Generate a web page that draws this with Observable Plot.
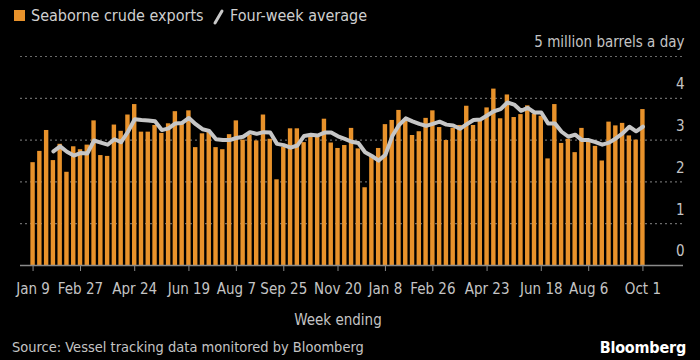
<!DOCTYPE html>
<html>
<head>
<meta charset="utf-8">
<script src="https://cdn.jsdelivr.net/npm/d3@7"></script>
<script src="https://cdn.jsdelivr.net/npm/@observablehq/plot@0.6"></script>
<style>
  html, body { margin: 0; padding: 0; background: #000; }
  body { width: 700px; height: 360px; overflow: hidden; font-family: "Liberation Sans Narrow", "DejaVu Sans Condensed", "Roboto", sans-serif; color: #cfcfcf; }
  #legend { position: relative; height: 30px; font-size: 16px; }
  #legend .sw { position: absolute; left: 14px; top: 10px; width: 11px; height: 11px; background: #e8922b; }
  #legend .t1 { position: absolute; left: 31px; top: 6px; }
  #legend .ln { position: absolute; left: 212px; top: 8px; }
  #legend .t2 { position: absolute; left: 230px; top: 6px; }
  #chart { height: 300px; }
  #footer { position: relative; height: 30px; font-size: 14.5px; }
  #footer .src { position: absolute; left: 12px; top: 9px; color: #c4c4c4; }
  #footer .brand { position: absolute; right: 14px; top: 8px; color: #fff; font-weight: bold; font-family: "Liberation Sans Narrow", "DejaVu Sans Condensed", sans-serif; font-size: 16px; letter-spacing: -0.2px; }
</style>
</head>
<body>
<div id="legend">
  <div class="sw"></div><span class="t1">Seaborne crude exports</span>
  <svg class="ln" width="14" height="18"><line x1="3" y1="15" x2="10" y2="3" stroke="#c8c8c8" stroke-width="3" stroke-linecap="round"/></svg>
  <span class="t2">Four-week average</span>
</div>
<div id="chart"></div>
<div id="footer">
  <span class="src">Source: Vessel tracking data monitored by Bloomberg</span>
  <span class="brand">Bloomberg</span>
</div>
<script>
// Weekly seaborne crude exports, million barrels a day (week ending Jan 9 2022 .. Oct 1 2023)
const exportsMbd = [
  2.46, 2.73, 3.23, 2.51, 2.90, 2.23, 2.84, 2.77, 2.88, 3.46,
  2.63, 2.61, 3.36, 3.21, 3.60, 3.85, 3.19, 3.19, 3.35, 3.16,
  3.39, 3.68, 3.38, 3.70, 2.82, 3.15, 3.20, 2.82, 2.77, 3.13,
  3.46, 3.00, 3.12, 2.98, 3.60, 3.02, 2.05, 2.83, 3.27, 3.27,
  2.94, 3.08, 3.11, 3.50, 2.93, 2.80, 2.87, 3.28, 2.79, 1.86,
  2.61, 2.80, 3.37, 3.47, 3.71, 3.50, 3.11, 3.20, 3.52, 3.70,
  3.30, 2.99, 3.28, 3.35, 3.81, 3.35, 3.46, 3.77, 4.22, 3.51,
  4.08, 3.54, 3.61, 3.82, 3.62, 3.57, 2.55, 3.85, 2.92, 3.02,
  2.70, 3.28, 2.95, 2.85, 2.50, 3.43, 3.34, 3.40, 3.10, 3.00,
  3.73
];
// Four-week average
const fourWeekAvg = [
  null, null, null, 2.73, 2.85, 2.72, 2.63, 2.69, 2.68, 2.99,
  2.94, 2.89, 3.02, 2.95, 3.20, 3.50, 3.48, 3.47, 3.45, 3.24,
  3.28, 3.40, 3.41, 3.53, 3.38, 3.26, 3.22, 3.02, 3.00, 3.00,
  3.05, 3.08, 3.19, 3.15, 3.19, 3.18, 2.91, 2.88, 2.82, 2.87,
  3.10, 3.13, 3.11, 3.18, 3.18, 3.09, 3.03, 2.96, 2.93, 2.71,
  2.62, 2.51, 2.65, 3.09, 3.36, 3.52, 3.45, 3.39, 3.34, 3.39,
  3.44, 3.37, 3.35, 3.27, 3.38, 3.48, 3.49, 3.59, 3.69, 3.74,
  3.90, 3.85, 3.70, 3.77, 3.66, 3.66, 3.40, 3.40, 3.20, 3.08,
  3.13, 3.00, 3.00, 2.95, 2.89, 2.94, 3.04, 3.16, 3.32, 3.21,
  3.32
];
const firstWeek = "2022-01-09";
const tickWeeks = ["2022-01-09","2022-02-27","2022-04-24","2022-06-19","2022-08-07","2022-09-25","2022-11-20",
                   "2023-01-08","2023-02-26","2023-04-23","2023-06-18","2023-08-06","2023-10-01"];
const tickLabels = ["Jan 9","Feb 27","Apr 24","Jun 19","Aug 7","Sep 25","Nov 20",
                    "Jan 8","Feb 26","Apr 23","Jun 18","Aug 6","Oct 1"];
const yTicks = [0, 1, 2, 3, 4, 5];

const fmt = d3.utcFormat("%Y-%m-%d");
const start = new Date(firstWeek + "T00:00:00Z");
const weeks = exportsMbd.map((_, i) => fmt(d3.utcDay.offset(start, 7 * i)));
const data = weeks.map((w, i) => ({week: w, value: exportsMbd[i], avg: fourWeekAvg[i]}));
const labelOf = new Map(tickWeeks.map((w, i) => [w, tickLabels[i]]));

const font = "Liberation Sans Narrow, DejaVu Sans Condensed, Roboto, sans-serif";
const chart = Plot.plot({
  width: 700,
  height: 300,
  marginTop: 26,
  marginBottom: 65,
  marginLeft: 28,
  marginRight: 53,
  style: {background: "#000", color: "#c4c4c4", fontFamily: font, fontSize: "15px"},
  x: {type: "band", domain: weeks, padding: 0.35},
  y: {domain: [0, 5]},
  marks: [
    Plot.ruleY(yTicks.filter(d => d > 0), {stroke: "#6a6a6a", strokeWidth: 1.2, strokeDasharray: "2,3", insetLeft: -8, insetRight: -36}),
    Plot.barY(data, {x: "week", y: "value", fill: "#e8922b"}),
    Plot.lineY(data.filter(d => d.avg != null), {x: "week", y: "avg", stroke: "#c6c6c6", strokeWidth: 4, strokeLinejoin: "round", strokeLinecap: "round"}),
    Plot.ruleY([0], {stroke: "#8a8a8a", strokeWidth: 1.5, insetLeft: -8, insetRight: -36}),
    Plot.axisY(yTicks, {anchor: "right", tickSize: 0, textAnchor: "end", dx: 28, dy: -14, fontSize: 15,
      tickFormat: d => d === 5 ? "5 million barrels a day" : String(d), label: null}),
    Plot.axisX(tickWeeks, {anchor: "bottom", tickSize: 6, tickPadding: 12, stroke: "#8a8a8a", fontSize: 15,
      tickFormat: d => labelOf.get(d), label: "Week ending", labelAnchor: "center", labelOffset: 59})
  ]
});
document.getElementById("chart").append(chart);
</script>
</body>
</html>
